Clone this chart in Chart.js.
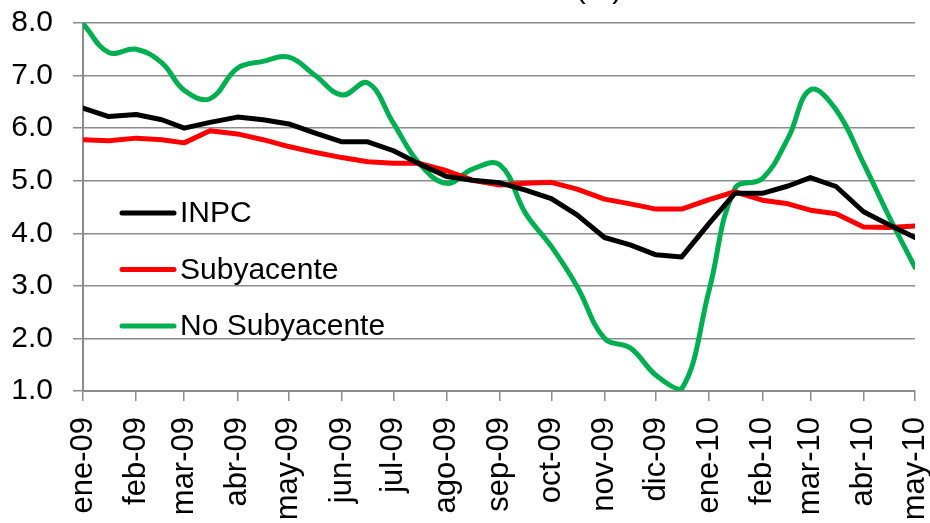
<!DOCTYPE html>
<html>
<head>
<meta charset="utf-8">
<script src="https://cdn.jsdelivr.net/npm/chart.js@4/dist/chart.umd.min.js"></script>
<style>
  body { margin: 0; background: #fff; }
  #grafica { display: block; }
</style>
</head>
<body>
<canvas id="grafica" width="930" height="523"></canvas>
<script>
const meses = ['ene-09', 'feb-09', 'mar-09', 'abr-09', 'may-09', 'jun-09', 'jul-09', 'ago-09', 'sep-09',
  'oct-09', 'nov-09', 'dic-09', 'ene-10', 'feb-10', 'mar-10', 'abr-10', 'may-10'];

// quincenas (inicio de cada quincena)
const fechas = ['2009-01-01', '2009-01-16', '2009-02-01', '2009-02-16', '2009-03-01', '2009-03-16',
  '2009-04-01', '2009-04-16', '2009-05-01', '2009-05-16', '2009-06-01', '2009-06-16',
  '2009-07-01', '2009-07-16', '2009-08-01', '2009-08-16', '2009-09-01', '2009-09-16',
  '2009-10-01', '2009-10-16', '2009-11-01', '2009-11-16', '2009-12-01', '2009-12-16',
  '2010-01-01', '2010-01-16', '2010-02-01', '2010-02-16', '2010-03-01', '2010-03-16',
  '2010-04-01', '2010-04-16', '2010-05-01'];

const inpc = [6.38, 6.22, 6.26, 6.16, 6.00, 6.11, 6.21, 6.16, 6.08, 5.91,
  5.74, 5.74, 5.57, 5.32, 5.08, 5.01, 4.96, 4.82, 4.66, 4.35,
  3.92, 3.78, 3.59, 3.55, 4.19, 4.76, 4.76, 4.90, 5.06, 4.89,
  4.41, 4.16, 3.92];

const subyacente = [5.78, 5.76, 5.81, 5.78, 5.72, 5.95, 5.89, 5.78, 5.65, 5.54,
  5.44, 5.36, 5.33, 5.33, 5.19, 5.01, 4.92, 4.95, 4.97, 4.84,
  4.65, 4.56, 4.46, 4.46, 4.64, 4.79, 4.63, 4.56, 4.44, 4.37,
  4.12, 4.11, 4.14];

const noSubyacente = [7.99, 7.44, 7.50, 7.24, 6.72, 6.56, 7.14, 7.27, 7.35, 7.01,
  6.63, 6.86, 6.09, 5.33, 4.95, 5.22, 5.30, 4.38, 3.75, 2.99,
  2.00, 1.82, 1.30, 1.04, 2.92, 4.85, 5.04, 5.81, 6.73, 6.35,
  5.33, 4.31, 3.35];

const fuente = '"Liberation Sans", Arial, sans-serif';
const gris = '#8c8c8c';

const dia0 = Date.parse(fechas[0]);
const dias = f => (Date.parse(f) - dia0) / 86400000;
const xs = fechas.map(dias);
const inicioMes = fechas.filter(f => f.endsWith('-01')).map(dias);

const serie = vals => vals.map((v, i) => ({ x: xs[i], y: v }));

// sin relleno extra por las etiquetas, el area queda fija
const sinPadding = scale => {
  scale.paddingLeft = 0;
  scale.paddingRight = 0;
  scale.paddingTop = 0;
  scale.paddingBottom = 0;
};

// leyenda dentro del area de la grafica
const leyenda = {
  id: 'leyenda',
  afterDatasetsDraw(chart) {
    const ctx = chart.ctx;
    const a = chart.chartArea;
    ctx.save();
    ctx.font = '30px ' + fuente;
    ctx.textBaseline = 'middle';
    ctx.lineCap = 'round';
    chart.data.datasets.forEach((ds, i) => {
      const y = a.top + 190 + i * 56.5;
      ctx.strokeStyle = ds.borderColor;
      ctx.lineWidth = 5;
      ctx.beginPath();
      ctx.moveTo(a.left + 39, y);
      ctx.lineTo(a.left + 91, y);
      ctx.stroke();
      ctx.fillStyle = '#000';
      ctx.fillText(ds.label, a.left + 97, y + 1);
    });
    ctx.restore();
  }
};

// titulo cortado arriba, solo se ve "(%)"
const titulo = {
  id: 'titulo',
  afterDraw(chart) {
    const ctx = chart.ctx;
    ctx.save();
    ctx.font = '30px ' + fuente;
    ctx.fillStyle = '#000';
    ctx.textAlign = 'center';
    ctx.textBaseline = 'alphabetic';
    ctx.fillText('(%)', 599, -2);
    ctx.restore();
  }
};

new Chart(document.getElementById('grafica'), {
  type: 'line',
  data: {
    datasets: [
      { label: 'INPC', data: serie(inpc), borderColor: '#000000', borderWidth: 5, tension: 0 },
      { label: 'Subyacente', data: serie(subyacente), borderColor: '#ff0000', borderWidth: 5, tension: 0 },
      { label: 'No Subyacente', data: serie(noSubyacente), borderColor: '#00b050', borderWidth: 5, tension: 0.4 }
    ]
  },
  options: {
    responsive: false,
    animation: false,
    devicePixelRatio: 1,
    layout: { padding: { top: 23, right: 15, left: 0, bottom: 0 } },
    elements: {
      point: { radius: 0 },
      line: { borderJoinStyle: 'round', borderCapStyle: 'round' }
    },
    plugins: {
      legend: { display: false },
      tooltip: { enabled: false }
    },
    scales: {
      x: {
        type: 'linear',
        min: 0,
        max: xs[xs.length - 1],
        afterBuildTicks: scale => { scale.ticks = inicioMes.map(v => ({ value: v })); },
        afterFit: scale => { scale.height = 132; sinPadding(scale); },
        grid: { drawOnChartArea: false, color: gris, lineWidth: 1.5, tickLength: 10 },
        border: { color: gris, width: 2 },
        ticks: {
          autoSkip: false,
          minRotation: 90,
          maxRotation: 90,
          padding: 16,
          color: '#000',
          font: { family: fuente, size: 31, lineHeight: 1 },
          callback: (v, i) => meses[i]
        }
      },
      y: {
        min: 1,
        max: 8,
        afterFit: scale => { scale.width = 83; sinPadding(scale); },
        grid: { color: gris, lineWidth: 1.5, tickLength: 10 },
        border: { color: gris, width: 2 },
        ticks: {
          stepSize: 1,
          padding: 20,
          color: '#000',
          font: { family: fuente, size: 30 },
          callback: v => v.toFixed(1)
        }
      }
    }
  },
  plugins: [leyenda, titulo]
});
</script>
</body>
</html>
